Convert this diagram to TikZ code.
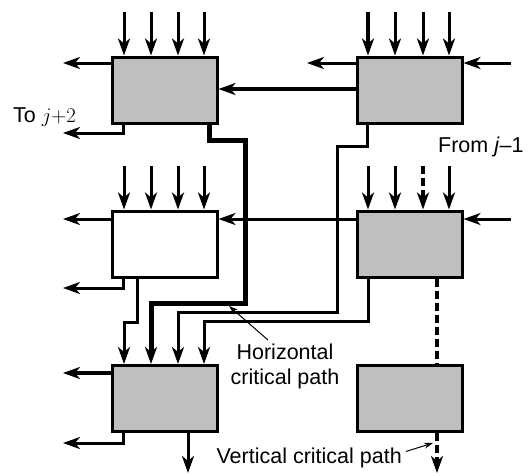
\documentclass[tikz,border=0pt]{standalone}
\usepackage{fontspec}
\setmainfont{Liberation Sans}
\usetikzlibrary{arrows.meta}
\definecolor{boxgray}{RGB}{191,191,191}
\begin{document}
\begin{tikzpicture}[x=1pt,y=-1pt,
  blk/.style={draw,line width=3pt,fill=boxgray,minimum width=105pt,minimum height=66pt,inner sep=0pt},
  blkw/.style={blk,fill=white},
  tip/.style={-{Stealth[length=17pt,width=12pt,inset=5pt]}},
  wire/.style={line width=3pt},
  arr/.style={wire,tip},
  thk/.style={line width=4.5pt},
  dsh/.style={line width=4pt,dash pattern=on 8pt off 4pt},
  lab/.style={font=\fontsize{21.5}{25}\selectfont,inner sep=0pt},
  lead/.style={line width=1pt,-{Stealth[length=9pt,width=6pt]}}]
\useasboundingbox (0,0) rectangle (528,475);
% blocks
\node[blk]  (TL) at (164.5,90) {};
\node[blk]  (TR) at (409.5,90) {};
\node[blkw] (ML) at (164.5,244) {};
\node[blk]  (MR) at (409.5,244) {};
\node[blk]  (BL) at (164.5,398.5) {};
\node[blk]  (BR) at (409.5,398.5) {};
% top inputs
\foreach \x in {124,151,178,204} \draw[arr] (\x,12) -- (\x,0 |- TL.north);
\draw[arr,thk] (368,12) -- (368,0 |- TR.north);
\foreach \x in {395,423,449} \draw[arr] (\x,12) -- (\x,0 |- TR.north);
% middle inputs
\foreach \x in {124,151,178,204} \draw[arr] (\x,166) -- (\x,0 |- ML.north);
\foreach \x in {368,395,449} \draw[arr] (\x,166) -- (\x,0 |- MR.north);
\draw[arr,dsh] (423,166) -- (423,0 |- MR.north);
% TL
\draw[arr] (TL.west |- 0,63) -- (63,63);
\draw[arr] (123,0 |- TL.south) -- (123,133) -- (63,133);
\draw[arr,thk] (TR.west |- 0,89) -- (TL.east |- 0,89);
\draw[arr,line width=5pt] (209,0 |- TL.south) -- (209,140) -- (245,140) -- (245,303) -- (151,303) -- (151,0 |- BL.north);
% TR
\draw[arr] (TR.west |- 0,63) -- (307,63);
\draw[arr] (511,63) -- (TR.east |- 0,63);
\draw[wire,tip] (367,0 |- TR.south) -- (367,146) -- (337,146) -- (337,312) -- (178,312) -- (178,0 |- BL.north);
% ML
\draw[arr] (ML.west |- 0,219) -- (63,219);
\draw[arr] (MR.west |- 0,219) -- (ML.east |- 0,219);
\draw[arr] (123,0 |- ML.south) -- (123,288) -- (63,288);
\draw[arr] (137,0 |- ML.south) -- (137,322) -- (124,322) -- (124,0 |- BL.north);
% MR
\draw[arr] (511,219) -- (MR.east |- 0,219);
\draw[arr] (368,0 |- MR.south) -- (368,321) -- (204,321) -- (204,0 |- BL.north);
\draw[dsh] (437,0 |- MR.south) -- (437,0 |- BR.north);
% BL
\draw[arr,thk] (BL.west |- 0,373) -- (63,373);
\draw[arr] (123,0 |- BL.south) -- (123,443) -- (63,443);
\draw[arr] (188,0 |- BL.south) -- (188,473);
% BR
\draw[arr,dsh] (437,0 |- BR.south) -- (437,473);
% labels
\node[lab,anchor=base east] (to) at (76,122) {To $j{+}2$};
\node[lab,anchor=base west] (from) at (438,152) {From \textit{j}–1};
\node[lab,align=center,anchor=north] (hcp) at (285,344) {Horizontal\\critical path};
\node[lab,anchor=base east] (vcp) at (402,463) {Vertical critical path};
\draw[lead] (268,340) -- (229,306);
\draw[lead] (vcp.east) ++(4,-6) -- (433,443);
\end{tikzpicture}
\end{document}
